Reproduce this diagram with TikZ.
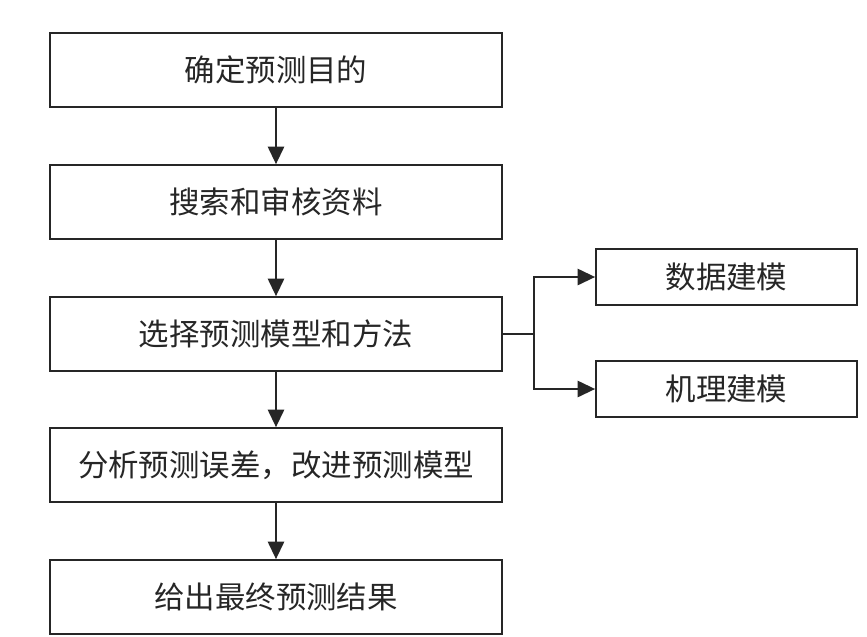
\documentclass[tikz,border=0pt]{standalone}
\usepackage{fontspec}
\setmainfont{Noto Sans CJK SC}
\usetikzlibrary{arrows.meta}
\begin{document}
\begin{tikzpicture}[x=0.03cm,y=-0.03cm,
  stepbox/.style={draw=black!85,line width=1.5pt,minimum width=13.56cm,minimum height=2.22cm,inner sep=0pt,text=black!85,font=\fontsize{26}{30}\selectfont},
  sidebox/.style={stepbox,minimum width=7.83cm,minimum height=1.66cm},
  flow/.style={draw=black!85,line width=1.5pt,-{Triangle[length=15pt,width=14pt]}}]
\useasboundingbox (0,0) rectangle (867,636);
\node[stepbox] (goal) at (276,70) {确定预测目的};
\node[stepbox] (data) at (276,202) {搜索和审核资料};
\node[stepbox] (method) at (276,334) {选择预测模型和方法};
\node[stepbox] (error) at (276,465) {分析预测误差，改进预测模型};
\node[stepbox] (result) at (276,597) {给出最终预测结果};
\node[sidebox] (datamod) at (726.5,277) {数据建模};
\node[sidebox] (mechmod) at (726.5,389) {机理建模};
\draw[flow] (goal) -- (data);
\draw[flow] (data) -- (method);
\draw[flow] (method) -- (error);
\draw[flow] (error) -- (result);
\draw[draw=black!85,line width=1.5pt] (method.east) -- ++(31,0) coordinate (fork); % branch point
\draw[flow] (fork) |- (datamod);
\draw[flow] (fork) |- (mechmod);
\end{tikzpicture}
\end{document}
